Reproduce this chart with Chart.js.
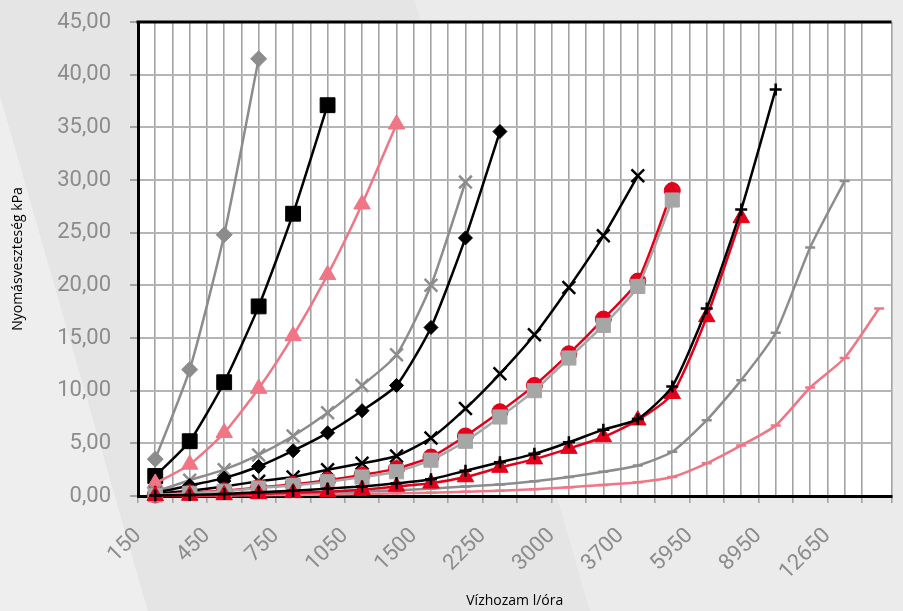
<!DOCTYPE html>
<html>
<head>
<meta charset="utf-8">
<script src="https://cdn.jsdelivr.net/npm/chart.js@4.4.0/dist/chart.umd.min.js"></script>
<style>
    html, body { margin: 0; padding: 0; }
    body {
        width: 903px; height: 611px; overflow: hidden;
        background: linear-gradient(74deg, #eeeeee 0%, #eeeeee 13.7%, #e5e5e5 13.7%, #e5e5e5 54.7%, #ebebeb 54.7%);
    }
    #wrap { position: relative; width: 903px; height: 611px; }
</style>
</head>
<body>
<div id="wrap"><canvas id="chart" width="903" height="611"></canvas></div>
<script>
// ===== DATI =====
// categorie dell'asse X (solo una su due ha etichetta)
const flowLabels = ['150', '', '450', '', '750', '', '1050', '', '1500', '', '2250', '',
                    '3000', '', '3700', '', '5950', '', '8950', '', '12650', ''];

const grayDiamond  = [3.5, 12.0, 24.8, 41.5];
const blackSquare  = [1.9, 5.2, 10.8, 18.0, 26.8, 37.1];
const pinkTriangle = [1.2, 3.0, 6.0, 10.2, 15.2, 21.0, 27.7, 35.3];
const grayCross    = [0.4, 1.5, 2.5, 3.9, 5.7, 7.9, 10.5, 13.4, 20.0, 29.8];
const blackDiamond = [0.3, 1.0, 1.7, 2.8, 4.3, 6.0, 8.1, 10.5, 16.0, 24.5, 34.6];
const blackCross   = [0.2, 0.5, 0.9, 1.4, 1.8, 2.5, 3.1, 3.8, 5.5, 8.3, 11.6, 15.3, 19.8, 24.7, 30.4];
const redCircle    = [0.1, 0.3, 0.5, 0.8, 1.1, 1.5, 2.0, 2.6, 3.7, 5.7, 8.0, 10.5, 13.5, 16.8, 20.4, 29.0];
const graySquare   = [0.1, 0.25, 0.45, 0.75, 1.0, 1.35, 1.8, 2.3, 3.4, 5.2, 7.5, 10.0, 13.1, 16.2, 19.9, 28.1];
const redTriangle  = [0.02, 0.05, 0.1, 0.2, 0.3, 0.4, 0.6, 0.9, 1.2, 1.8, 2.7, 3.5, 4.5, 5.6, 7.2, 9.7, 17.0, 26.4];
const blackPlus    = [0.05, 0.1, 0.2, 0.35, 0.5, 0.7, 0.9, 1.2, 1.6, 2.4, 3.2, 4.0, 5.1, 6.3, 7.3, 10.4, 17.8, 27.2, 38.6];
const grayDash     = [0.02, 0.05, 0.1, 0.15, 0.2, 0.3, 0.4, 0.55, 0.7, 0.9, 1.1, 1.4, 1.8, 2.3, 2.9, 4.2, 7.2, 11.0, 15.5, 23.6, 29.9];
const pinkDash     = [0.01, 0.03, 0.05, 0.07, 0.1, 0.15, 0.2, 0.25, 0.3, 0.4, 0.5, 0.64, 0.83, 1.05, 1.3, 1.8, 3.1, 4.8, 6.7, 10.3, 13.1, 17.8];

const yMin = 0, yMax = 45, yStep = 5;

// colori
const GRAY = '#8c8c8c';
const LIGHTGRAY = '#a6a6a6';
const PINK = '#f07585';
const RED = '#e2001a';
const BLACK = '#000000';

// Trasforma un array di valori in punti {x, y}
const toPoints = arr => arr.map((v, i) => ({ x: i, y: v }));

function serie(label, values, color, style, radius, filled) {
    return {
        label: label,
        data: toPoints(values),
        borderColor: color,
        backgroundColor: color,
        borderWidth: 2.5,
        tension: 0.2,
        pointStyle: style,
        pointRadius: radius,
        pointBackgroundColor: filled ? color : 'transparent',
        pointBorderColor: color,
        pointBorderWidth: filled ? 1 : 2.5,
        clip: 12
    };
}

// Ordine come in Excel: l'ultima serie sta sopra
const datasets = [
    serie('grayDash', grayDash, GRAY, 'line', 5, false),
    serie('pinkDash', pinkDash, PINK, 'line', 5, false),
    serie('grayDiamond', grayDiamond, GRAY, 'rectRot', 8, true),
    serie('blackSquare', blackSquare, BLACK, 'rect', 10.5, true),
    serie('pinkTriangle', pinkTriangle, PINK, 'triangle', 9.5, true),
    serie('grayCross', grayCross, GRAY, 'crossRot', 9, false),
    serie('blackDiamond', blackDiamond, BLACK, 'rectRot', 7, true),
    serie('blackCross', blackCross, BLACK, 'crossRot', 9, false),
    serie('redCircle', redCircle, RED, 'circle', 8, true),
    serie('graySquare', graySquare, LIGHTGRAY, 'rect', 10, true),
    serie('redTriangle', redTriangle, RED, 'triangle', 9.5, true),
    serie('blackPlus', blackPlus, BLACK, 'cross', 6, false)
];
datasets.forEach((d, i) => { d.order = -i; });

// Sfondo bianco dell'area del grafico + bordo superiore
const plotFrame = {
    id: 'plotFrame',
    beforeDraw(chart) {
        const a = chart.chartArea;
        const c = chart.ctx;
        c.save();
        c.fillStyle = '#ffffff';
        c.fillRect(a.left, a.top, a.right - a.left, a.bottom - a.top);
        c.restore();
    },
    beforeDatasetsDraw(chart) {
        const a = chart.chartArea;
        const c = chart.ctx;
        c.save();
        c.strokeStyle = '#000';
        c.lineWidth = 3;
        c.beginPath();
        c.moveTo(a.left - 1.5, a.top);
        c.lineTo(a.right, a.top);
        c.stroke();
        c.restore();
    }
};

const isHalf = v => Math.abs(v - Math.round(v)) > 0.25;

new Chart(document.getElementById('chart'), {
    type: 'line',
    data: { datasets: datasets },
    plugins: [plotFrame],
    options: {
        responsive: false,
        animation: false,
        layout: { padding: { top: 22, right: 0, left: 0, bottom: 0 } },
        plugins: {
            legend: { display: false },
            tooltip: { enabled: false }
        },
        scales: {
            x: {
                type: 'linear',
                min: -0.5,
                max: flowLabels.length - 0.64,
                afterFit: s => { s.height = 115; s.paddingRight = 0; s.paddingLeft = 0; },
                border: { color: '#000', width: 3 },
                grid: {
                    color: '#a3a3a3',
                    lineWidth: 1.6,
                    tickLength: 7,
                    tickColor: ctx => (ctx.tick && isHalf(ctx.tick.value)) ? '#a3a3a3' : 'rgba(0,0,0,0)'
                },
                ticks: {
                    stepSize: 0.5,
                    autoSkip: false,
                    maxRotation: 45,
                    minRotation: 45,
                    padding: 20,
                    color: '#8c8c8c',
                    font: { family: 'Roboto', size: 22 },
                    // etichetta sul bordo sinistro della categoria, come in Excel
                    callback: function(value) {
                        if (!isHalf(value)) return '';
                        return flowLabels[Math.round(value + 0.5)] || '';
                    }
                },
                title: {
                    display: true,
                    text: 'Vízhozam l/óra',
                    color: '#000',
                    font: { family: 'Open Sans', size: 14 },
                    padding: { top: 0, bottom: 2 }
                }
            },
            y: {
                min: yMin,
                max: yMax,
                afterFit: s => { s.width = 138; s.paddingTop = 0; s.paddingBottom = 0; },
                border: { color: '#000', width: 3 },
                grid: {
                    color: '#b5b5b5',
                    lineWidth: 2,
                    tickLength: 8,
                    tickColor: '#a3a3a3'
                },
                ticks: {
                    stepSize: yStep,
                    padding: 19,
                    color: '#8c8c8c',
                    font: { family: 'Roboto', size: 22 },
                    callback: function(value) {
                        return value.toFixed(2).replace('.', ',');
                    }
                },
                title: {
                    display: true,
                    text: 'Nyomásveszteség kPa',
                    color: '#000',
                    font: { family: 'Open Sans', size: 14 },
                    padding: { top: 10, bottom: 0 }
                }
            }
        }
    }
});
</script>
</body>
</html>
